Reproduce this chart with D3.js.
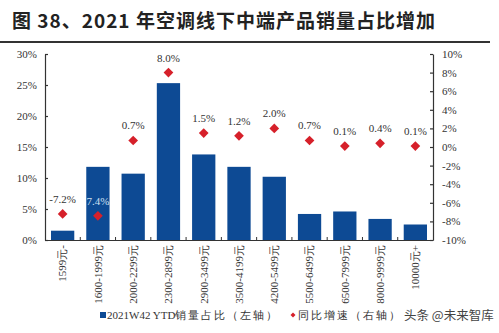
<!DOCTYPE html>
<html>
<head>
<meta charset="utf-8">
<script src="https://cdn.jsdelivr.net/npm/d3@7"></script>
<style>
  body { margin: 0; background: #fff; }
  svg { display: block; }
</style>
</head>
<body>
<div id="chart"></div>
<script>
const categories = ["1599元-", "1600-1999元", "2000-2299元", "2300-2899元", "2900-3499元", "3500-4199元",
  "4200-5499元", "5500-6499元", "6500-7999元", "8000-9999元", "10000元+"];
const shareValues = [1.5, 11.8, 10.7, 25.3, 13.8, 11.8, 10.2, 4.2, 4.6, 3.4, 2.5];
const growthValues = [-7.2, -7.4, 0.7, 8.0, 1.5, 1.2, 2.0, 0.7, 0.1, 0.4, 0.1];
const growthLabels = ["-7.2%", "7.4%", "0.7%", "8.0%", "1.5%", "1.2%", "2.0%", "0.7%", "0.1%", "0.4%", "0.1%"];
const leftTicks = [0, 5, 10, 15, 20, 25, 30];
const rightTicks = [-10, -8, -6, -4, -2, 0, 2, 4, 6, 8, 10];

const width = 499, height = 333;
const margin = { top: 54, right: 66, bottom: 93, left: 45 };
const serif = "'Liberation Serif', 'Times New Roman', serif";
const blue = "#0d4a94";
const red = "#d6202a";

const svg = d3.select("#chart").append("svg")
  .attr("width", width)
  .attr("height", height);

// title
svg.append("text")
  .attr("x", 12)
  .attr("y", 28)
  .style("font-family", "'Noto Sans CJK SC', sans-serif")
  .style("font-weight", "bold")
  .style("font-size", "19px")
  .style("letter-spacing", "1px")
  .style("fill", "#222")
  .text("图 38、2021 年空调线下中端产品销量占比增加");

svg.append("line")
  .attr("x1", 0).attr("x2", 490)
  .attr("y1", 42).attr("y2", 42)
  .attr("stroke", "#333")
  .attr("stroke-width", 2);

const x = d3.scaleBand()
  .domain(categories)
  .range([margin.left, width - margin.right])
  .paddingInner(0.34)
  .paddingOuter(0.17);

const yL = d3.scaleLinear().domain([0, 30]).range([height - margin.bottom, margin.top]);
const yR = d3.scaleLinear().domain([-10, 10]).range([height - margin.bottom, margin.top]);

// bars
svg.selectAll(".bar")
  .data(shareValues)
  .enter().append("rect")
  .attr("class", "bar")
  .attr("x", (d, i) => x(categories[i]))
  .attr("width", x.bandwidth())
  .attr("y", d => yL(d))
  .attr("height", d => yL(0) - yL(d))
  .attr("fill", blue);

// axes
const leftAxis = svg.append("g")
  .attr("transform", `translate(${margin.left},0)`)
  .call(d3.axisLeft(yL).tickValues(leftTicks).tickFormat(d => d + "%").tickSizeInner(-3).tickSizeOuter(0).tickPadding(8));

const rightAxis = svg.append("g")
  .attr("transform", `translate(${width - margin.right},0)`)
  .call(d3.axisRight(yR).tickValues(rightTicks).tickFormat(d => d + "%").tickSizeInner(-3).tickSizeOuter(0).tickPadding(9));

const bottomAxis = svg.append("g")
  .attr("transform", `translate(0,${height - margin.bottom})`)
  .call(d3.axisBottom(x).tickSize(0).tickPadding(4));

bottomAxis.selectAll("text")
  .attr("transform", "rotate(-90)")
  .attr("text-anchor", "end")
  .attr("x", -5)
  .attr("y", 0)
  .attr("dy", "0.35em");

// small separators on the x axis
svg.selectAll(".sep")
  .data(categories.slice(1))
  .enter().append("line")
  .attr("x1", d => x(d) - x.step() * x.paddingInner() / 2)
  .attr("x2", d => x(d) - x.step() * x.paddingInner() / 2)
  .attr("y1", yL(0))
  .attr("y2", yL(0) - 3)
  .attr("stroke", "#333");

[leftAxis, rightAxis, bottomAxis].forEach(a => {
  a.selectAll("path, line").attr("stroke", "#333").attr("stroke-width", 1.2);
  a.selectAll("text")
    .style("font-family", serif)
    .style("font-size", "11px")
    .style("fill", "#333");
});

// diamonds
const diamond = d3.symbol().type(d3.symbolDiamond2).size(60);
svg.selectAll(".pt")
  .data(growthValues)
  .enter().append("path")
  .attr("class", "pt")
  .attr("d", diamond)
  .attr("transform", (d, i) => `translate(${x(categories[i]) + x.bandwidth() / 2},${yR(d)})`)
  .attr("fill", red);

svg.selectAll(".pl")
  .data(growthValues)
  .enter().append("text")
  .attr("class", "pl")
  .attr("x", (d, i) => x(categories[i]) + x.bandwidth() / 2)
  .attr("y", d => yR(d) - 11)
  .attr("text-anchor", "middle")
  .style("font-family", serif)
  .style("font-size", "11px")
  .style("fill", (d, i) => i === 1 ? "#cfe0f2" : "#333")
  .text((d, i) => growthLabels[i]);

// legend
const legend = svg.append("g").attr("transform", "translate(0,319)");
legend.append("rect")
  .attr("x", 100).attr("y", -7)
  .attr("width", 6).attr("height", 6)
  .attr("fill", blue);
const t1 = legend.append("text")
  .attr("x", 107).attr("y", 0)
  .style("font-family", serif)
  .style("font-size", "11px")
  .style("fill", "#333");
t1.append("tspan").text("2021W42 YTD");
t1.append("tspan").style("letter-spacing", "2px").text("销量占比（左轴）");
legend.append("path")
  .attr("d", d3.symbol().type(d3.symbolDiamond2).size(16))
  .attr("transform", "translate(293,-4)")
  .attr("fill", red);
legend.append("text")
  .attr("x", 298).attr("y", 0)
  .style("font-family", serif)
  .style("font-size", "11px")
  .style("letter-spacing", "2px")
  .style("fill", "#333")
  .text("同比增速（右轴）");
legend.append("text")
  .attr("x", 404).attr("y", 1)
  .style("font-family", "'Noto Sans CJK SC', sans-serif")
  .style("font-size", "12.5px")
  .style("fill", "#444")
  .text("头条 @未来智库");
</script>
</body>
</html>
